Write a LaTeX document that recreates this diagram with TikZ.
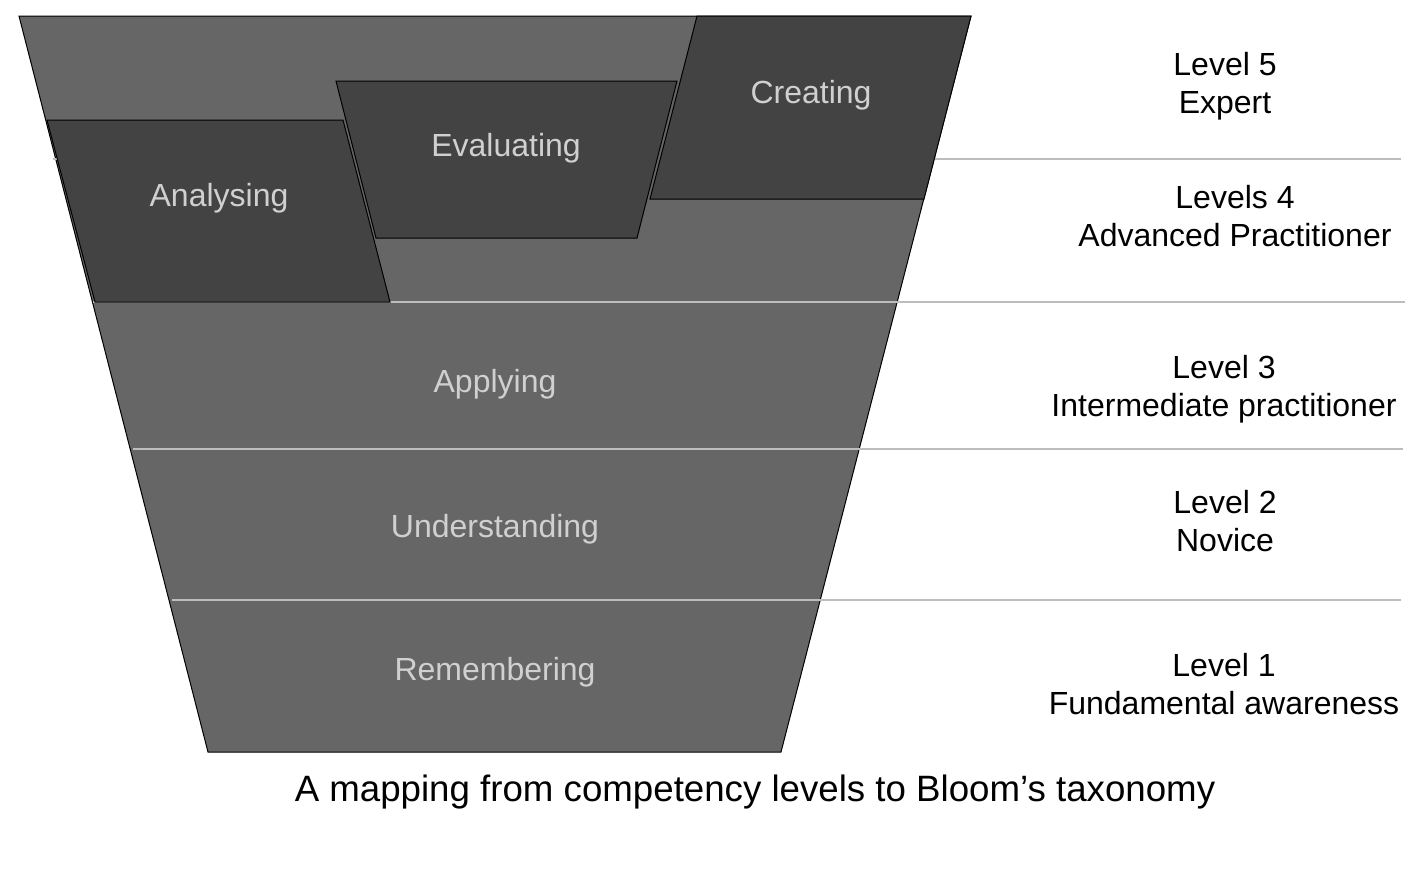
\documentclass[tikz,border=0pt]{standalone}
\usepackage{fontspec}
\setmainfont{Liberation Sans}
\definecolor{funnelgrey}{HTML}{666666}
\definecolor{blockgrey}{HTML}{434343}
\definecolor{labelgrey}{HTML}{D0D0D0}
\definecolor{rulegrey}{HTML}{BDBDBD}
\tikzset{every picture/.style={line width=0.75pt}}
\tikzset{
  levelrule/.style={draw=rulegrey, line width=1.2pt},
  block/.style={draw=black, fill=blockgrey},
  stage/.style={text=labelgrey, font=\fontsize{24}{28.5}\selectfont},
  level/.style={text=black, align=center, font=\fontsize{24}{28.5}\selectfont}
}
\begin{document}
\begin{tikzpicture}[x=0.75pt,y=0.75pt,yscale=-1,xscale=1]
	\useasboundingbox (0,0) rectangle (1428,872);

	%Shape: Trapezoid [id:funnel] 
	\draw [fill=funnelgrey]  (19,16) -- (971,16) -- (781,752) -- (208,752) -- cycle ;

	%Straight Lines [id:rules] 
	\draw [levelrule]  (53,159) -- (100,159) (930,159) -- (1401,159) ;
	\draw [levelrule]  (93,302) -- (1405,302) ;
	\draw [levelrule]  (133,449) -- (1403,449) ;
	\draw [levelrule]  (172,600) -- (1401,600) ;

	%Shape: Parallelogram [id:analysing] 
	\draw [block]  (47,120) -- (343,120) -- (390,302) -- (95,302) -- cycle ;
	%Shape: Trapezoid [id:evaluating] 
	\draw [block]  (336,81) -- (677,81) -- (637,238) -- (376,238) -- cycle ;
	%Shape: Parallelogram [id:creating] 
	\draw [block]  (697,16) -- (971,16) -- (924,199) -- (650,199) -- cycle ;

	% Text Node
	\draw (811,95) node [stage] (creating) {Creating};
	% Text Node
	\draw (506,148) node [stage] (evaluating) {Evaluating};
	% Text Node
	\draw (219,198) node [stage] (analysing) {Analysing};
	% Text Node
	\draw (495,384) node [stage] (applying) {Applying};
	% Text Node
	\draw (495,529) node [stage] (understanding) {Understanding};
	% Text Node
	\draw (495,672) node [stage] (remembering) {Remembering};

	% Text Node
	\draw (1225,86) node [level] (lvlfive) {Level 5\\Expert};
	% Text Node
	\draw (1235,216) node [level] (lvlfour) {Levels 4\\Advanced Practitioner};
	% Text Node
	\draw (1224,389) node [level] (lvlthree) {Level 3\\Intermediate practitioner};
	% Text Node
	\draw (1225,521) node [level] (lvltwo) {Level 2\\Novice};
	% Text Node
	\draw (1224,684) node [level] (lvlone) {Level 1\\Fundamental awareness};

	% Text Node
	\draw (755,792) node [level, font=\fontsize{27.5}{32}\selectfont] (caption) {A mapping from competency levels to Bloom’s taxonomy};

\end{tikzpicture}
\end{document}
